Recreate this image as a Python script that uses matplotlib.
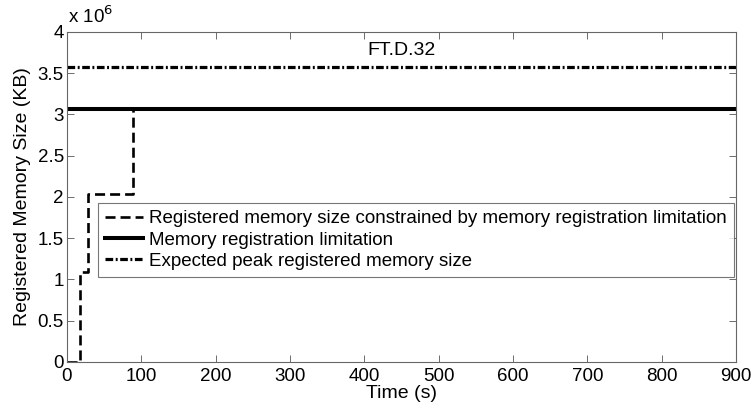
import matplotlib

matplotlib.use("Agg")
import matplotlib.pyplot as plt
from matplotlib.ticker import FuncFormatter

plt.rcParams["font.family"] = ["Liberation Sans", "DejaVu Sans"]

# step curve of registered memory (KB) over time (s)
step_t = [0, 18, 18, 29, 29, 89, 89, 900]
step_kb = [0, 0, 1.09e6, 1.09e6, 2.03e6, 2.03e6, 3.07e6, 3.07e6]
limit_kb = 3.07e6
peak_kb = 3.58e6
t_range = [0, 900]

fig = plt.figure(figsize=(7.54, 4.09), dpi=100)
ax = fig.add_axes([0.0885, 0.115, 0.888, 0.807])

ax.plot(step_t, step_kb, color="black", lw=1.9, dashes=(3.8, 1.9),
        label="Registered memory size constrained by memory registration limitation")
ax.plot(t_range, [limit_kb, limit_kb], color="black", lw=2.9, ls="-",
        label="Memory registration limitation")
ax.plot(t_range, [peak_kb, peak_kb], color="black", lw=2.3,
        dashes=(2.4, 0.8, 0.6, 0.8),
        label="Expected peak registered memory size")

ax.set_xlim(0, 900)
ax.set_ylim(0, 4e6)
ax.set_xticks(range(0, 901, 100))
ax.set_yticks([i * 0.5e6 for i in range(9)])
ax.yaxis.set_major_formatter(FuncFormatter(lambda v, p: f"{v / 1e6:g}"))
ax.tick_params(direction="in", length=5, width=0.6, top=True, right=True,
               labelsize=13.5, color="#555555")
ax.tick_params(axis="x", pad=4)
ax.tick_params(axis="y", pad=2)
for s in ax.spines.values():
    s.set_color("#666666")
    s.set_linewidth(0.8)

ax.set_xlabel("Time (s)", fontsize=14, labelpad=0)
ax.set_ylabel("Registered Memory Size (KB)", fontsize=14, labelpad=5)
ax.text(0.002, 1.015, r"x 10$^{6}$", transform=ax.transAxes, fontsize=13.5,
        ha="left", va="bottom")
ax.text(450, 3.78e6, "FT.D.32", fontsize=14, ha="center", va="center")

leg = ax.legend(loc="upper left", bbox_to_anchor=(0.046, 0.482), fontsize=13.5,
                frameon=True, fancybox=False, handlelength=2.0, handletextpad=0.35,
                borderpad=0.4, labelspacing=0.22, borderaxespad=0)
leg.get_frame().set_edgecolor("#555555")
leg.get_frame().set_linewidth(0.8)

fig.savefig("out.png", dpi=100)
